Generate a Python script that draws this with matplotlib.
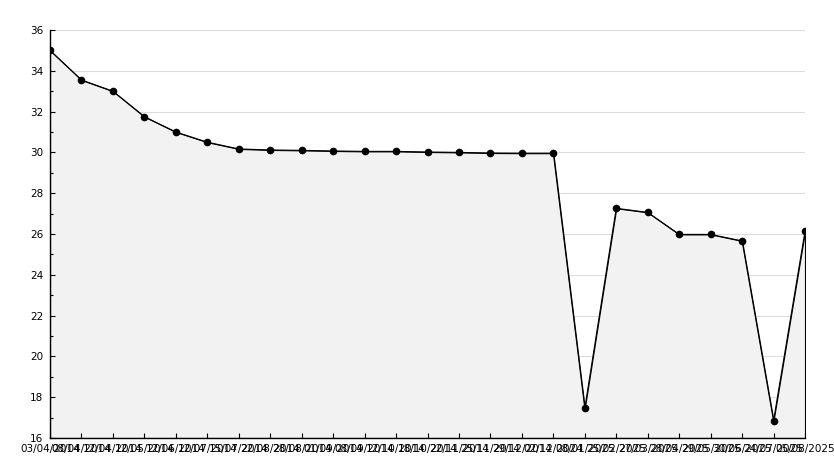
import numpy as np
import matplotlib.pyplot as plt
from matplotlib.ticker import MultipleLocator

dates = ['03/04/2014', '08/04/2014', '12/04/2014', '12/05/2014', '12/06/2014',
         '12/07/2014', '15/07/2014', '22/08/2014', '28/08/2014', '01/09/2014',
         '08/09/2014', '12/10/2014', '18/10/2014', '22/11/2014', '25/11/2014',
         '29/12/2014', '02/12/2024', '08/01/2025', '25/02/2025', '27/03/2025',
         '28/04/2025', '29/05/2025', '30/06/2025', '24/07/2025', '05/08/2025']
values = [35.0, 33.55, 33.0, 31.75, 31.0, 30.5, 30.17, 30.12, 30.1, 30.07,
          30.05, 30.05, 30.02, 30.0, 29.97, 29.96, 29.96, 17.46, 27.26, 27.06,
          25.98, 25.98, 25.66, 16.85, 26.13]

x = np.arange(len(values))

fig = plt.figure(figsize=(8.34, 4.68), dpi=100)
ax = fig.add_axes([50/834, 30/468, 755/834, 408/468])

ax.fill_between(x, values, 16, facecolor='#f2f2f2', edgecolor='black', linewidth=0.8, zorder=1)
ax.plot(x, values, color='black', linewidth=0.8, marker='o', markersize=4.5, zorder=3)

ax.set_xlim(0, len(values) - 1)
ax.set_ylim(16, 36)

ax.set_yticks(np.arange(16, 37, 2))
ax.yaxis.set_minor_locator(MultipleLocator(1))
for g in range(18, 37, 2):
    ax.axhline(g, color='#dddddd', linewidth=0.8, zorder=0.5)

ax.set_xticks(x)
ax.set_xticklabels(dates)

for s in ['top', 'right']:
    ax.spines[s].set_visible(False)
ax.spines['left'].set_linewidth(1)
ax.spines['bottom'].set_linewidth(1)

ax.tick_params(axis='both', which='major', direction='in', length=3.6, width=0.8,
               labelsize=7.5, colors='black')
ax.tick_params(axis='y', which='minor', direction='in', length=2, width=0.8)
ax.tick_params(axis='y', pad=5)
ax.tick_params(axis='x', pad=4)

fig.savefig('out.png', dpi=100)
